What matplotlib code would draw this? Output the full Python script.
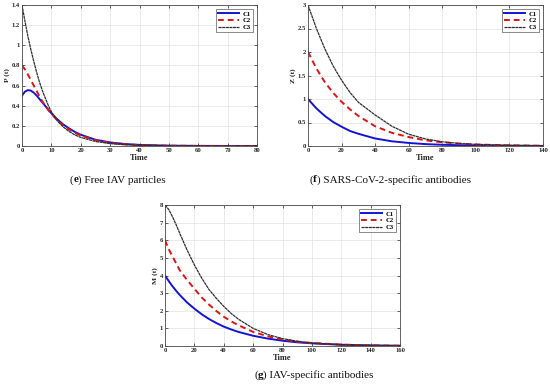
import matplotlib
matplotlib.use("Agg")
import matplotlib.pyplot as plt

# ---------- data ----------
t_p = [0, 1, 2, 3, 4, 5, 6, 7, 8, 9, 10, 12, 14, 16, 18, 20, 25, 30, 35, 40, 50, 60, 70, 80]
p_c1 = [0.50, 0.54, 0.555, 0.55, 0.53, 0.50, 0.465, 0.43, 0.395, 0.36, 0.325, 0.265, 0.215, 0.175,
        0.14, 0.112, 0.062, 0.035, 0.02, 0.011, 0.0035, 0.001, 0.0003, 0.0001]
p_c2 = [0.80, 0.76, 0.71, 0.655, 0.60, 0.545, 0.49, 0.44, 0.395, 0.355, 0.32, 0.255, 0.205, 0.165,
        0.13, 0.104, 0.057, 0.031, 0.017, 0.009, 0.003, 0.001, 0.0003, 0.0001]
p_c3 = [1.40, 1.24, 1.09, 0.96, 0.84, 0.73, 0.63, 0.545, 0.47, 0.40, 0.34, 0.25, 0.19, 0.145,
        0.11, 0.085, 0.045, 0.024, 0.013, 0.007, 0.002, 0.0006, 0.0002, 0.0001]

t_z = [0, 5, 10, 15, 20, 25, 30, 40, 50, 60, 70, 80, 90, 100, 120, 140]
z_c1 = [1.0, 0.80, 0.64, 0.51, 0.41, 0.32, 0.26, 0.16, 0.10, 0.065, 0.04, 0.026, 0.017, 0.011, 0.005, 0.002]
z_c2 = [2.0, 1.65, 1.36, 1.13, 0.94, 0.78, 0.64, 0.42, 0.28, 0.19, 0.12, 0.08, 0.05, 0.032, 0.013, 0.005]
z_c3 = [3.0, 2.50, 2.07, 1.70, 1.40, 1.14, 0.93, 0.66, 0.42, 0.25, 0.15, 0.09, 0.055, 0.035, 0.015, 0.006]

t_m = [0, 2.5, 5, 7.5, 10, 15, 20, 25, 30, 35, 40, 45, 50, 60, 70, 80, 90, 100, 120, 140, 160]
m_c1 = [4.0, 3.69, 3.40, 3.14, 2.90, 2.47, 2.12, 1.80, 1.53, 1.30, 1.10, 0.94, 0.80, 0.58, 0.42,
        0.30, 0.21, 0.15, 0.07, 0.035, 0.015]
m_c2 = [6.0, 5.50, 5.10, 4.70, 4.30, 3.75, 3.25, 2.75, 2.35, 1.98, 1.66, 1.40, 1.18, 0.80, 0.55,
        0.37, 0.25, 0.17, 0.08, 0.035, 0.015]
m_c3 = [8.0, 7.75, 7.35, 6.90, 6.40, 5.45, 4.60, 3.85, 3.20, 2.70, 2.25, 1.85, 1.52, 1.00, 0.65,
        0.42, 0.27, 0.17, 0.07, 0.03, 0.012]

series_labels = ["C1", "C2", "C3"]

panels = [
    dict(t=t_p, ys=[p_c1, p_c2, p_c3], xlim=(0, 80), xticks=[0, 10, 20, 30, 40, 50, 60, 70, 80],
         ylim=(0, 1.4), yticks=[0, 0.2, 0.4, 0.6, 0.8, 1, 1.2, 1.4], ylabel="P (t)",
         pos=[22, 5, 257, 146], cap_letter="e", cap="Free IAV particles", cap_xy=(118, 180)),
    dict(t=t_z, ys=[z_c1, z_c2, z_c3], xlim=(0, 140), xticks=[0, 20, 40, 60, 80, 100, 120, 140],
         ylim=(0, 3), yticks=[0, 0.5, 1, 1.5, 2, 2.5, 3], ylabel="Z (t)",
         pos=[308, 5, 543, 146], cap_letter="f", cap="SARS-CoV-2-specific antibodies", cap_xy=(390, 180)),
    dict(t=t_m, ys=[m_c1, m_c2, m_c3], xlim=(0, 160), xticks=[0, 20, 40, 60, 80, 100, 120, 140, 160],
         ylim=(0, 8), yticks=[0, 1, 2, 3, 4, 5, 6, 7, 8], ylabel="M (t)",
         pos=[165, 205, 400, 346], cap_letter="g", cap="IAV-specific antibodies", cap_xy=(314, 375)),
]

W, H = 550, 390
fig = plt.figure(figsize=(W / 100, H / 100), dpi=100)
fig.patch.set_facecolor("white")

styles = [dict(color="#1414d2", lw=1.4, ls="-"),
          dict(color="#e01414", lw=1.4, ls=(0, (3, 2))),
          dict(color="#2e2e2e", lw=0.9, ls=(0, (2.5, 0.4)))]

tickfont = dict(family="Liberation Serif", weight="bold", size=4.8)

for p in panels:
    l, tp, r, b = p["pos"]
    ax = fig.add_axes([l / W, 1 - b / H, (r - l) / W, (b - tp) / H])
    for y, lab, st in zip(p["ys"], series_labels, styles):
        ax.plot(p["t"], y, label=lab, **st)
    ax.set_xlim(*p["xlim"])
    ax.set_ylim(*p["ylim"])
    ax.set_xticks(p["xticks"])
    ax.set_yticks(p["yticks"])
    ax.set_xticklabels(["%g" % v for v in p["xticks"]], fontdict=tickfont)
    ax.set_yticklabels(["%g" % v for v in p["yticks"]], fontdict=tickfont)
    ax.tick_params(direction="in", length=2, width=0.5, pad=1.5, colors="#262626",
                   top=True, right=True)
    ax.grid(True, color="#e2e2e2", lw=0.5)
    ax.set_axisbelow(True)
    for sp in ax.spines.values():
        sp.set_color("#4a4a4a")
        sp.set_linewidth(0.6)
    ax.set_xlabel("Time", family="Liberation Serif", weight="bold", size=6, labelpad=0.5,
                  color="#262626")
    ax.set_ylabel(p["ylabel"], family="Liberation Serif", weight="bold", size=5.4, labelpad=1,
                  color="#262626")
    leg = ax.legend(loc="upper right", prop=dict(family="Liberation Serif", weight="bold", size=4.8),
                    handlelength=3.2, handletextpad=0.5, borderpad=0.3, labelspacing=0.15,
                    frameon=True, fancybox=False, edgecolor="#333333", borderaxespad=0.6)
    leg.get_frame().set_linewidth(0.5)

# captions: "(" + bold letter + ") text", centred as a whole
fig.canvas.draw()
renderer = fig.canvas.get_renderer()
capfont = dict(family="Liberation Serif", size=8, color="#111111")
for p in panels:
    cx, cy = p["cap_xy"]
    parts = [("(", "normal"), (p["cap_letter"], "bold"), (") " + p["cap"], "normal")]
    widths = []
    for s, w in parts:
        tt = fig.text(0, 0, s.replace(" ", "\u00a0"), weight=w, **capfont)
        widths.append(tt.get_window_extent(renderer).width)
        tt.remove()
    x = cx - sum(widths) / 2
    for (s, w), wd in zip(parts, widths):
        fig.text(x / W, 1 - cy / H, s.replace(" ", "\u00a0"), ha="left", va="center", weight=w, **capfont)
        x += wd

fig.savefig("out.png", dpi=100, facecolor="white")
